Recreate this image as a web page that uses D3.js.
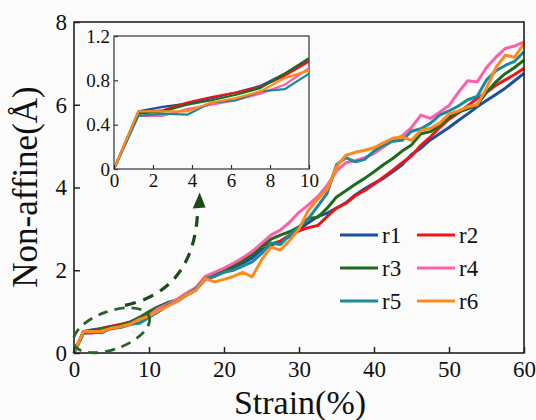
<!DOCTYPE html>
<html>
<head>
<meta charset="utf-8">
<script src="https://cdn.jsdelivr.net/npm/d3@7"></script>
<style>
  body { margin: 0; background: #fbfbfb; }
  svg text { font-family: "Liberation Serif", "Times New Roman", serif; fill: #111; }
</style>
</head>
<body>
<div id="chart"></div>
<script>
// strain (%) sampled every 1.25
const strain = d3.range(0, 60.01, 1.25);

const r1 = [0, 0.52, 0.56, 0.59, 0.64, 0.69, 0.75, 0.86, 0.98, 1.08, 1.18, 1.25, 1.4, 1.52, 1.78, 1.86, 1.97, 2.07, 2.17, 2.3, 2.5, 2.6, 2.7, 2.82, 2.98, 3.15, 3.3, 3.38, 3.5, 3.63, 3.82, 3.97, 4.1, 4.22, 4.38, 4.55, 4.8, 4.95, 5.15, 5.3, 5.45, 5.62, 5.78, 5.95, 6.1, 6.25, 6.4, 6.58, 6.76];
const r2 = [0, 0.51, 0.53, 0.6, 0.65, 0.69, 0.74, 0.84, 0.97, 1.08, 1.18, 1.27, 1.42, 1.55, 1.8, 1.88, 1.98, 2.1, 2.28, 2.45, 2.6, 2.63, 2.7, 2.85, 2.95, 3.03, 3.08, 3.3, 3.5, 3.62, 3.8, 3.93, 4.08, 4.25, 4.42, 4.6, 4.76, 5.02, 5.22, 5.45, 5.65, 5.8, 5.98, 6.15, 6.3, 6.47, 6.6, 6.73, 6.88];
const r3 = [0, 0.5, 0.52, 0.58, 0.62, 0.67, 0.73, 0.86, 1.0, 1.12, 1.22, 1.28, 1.43, 1.56, 1.82, 1.9, 2.0, 2.1, 2.22, 2.38, 2.57, 2.75, 2.85, 2.93, 3.05, 3.25, 3.28, 3.5, 3.77, 3.92, 4.08, 4.22, 4.38, 4.55, 4.7, 4.88, 5.03, 5.3, 5.35, 5.5, 5.7, 5.82, 5.9, 6.0, 6.3, 6.55, 6.75, 6.9, 7.08];
const r4 = [0, 0.48, 0.48, 0.54, 0.58, 0.62, 0.68, 0.76, 0.91, 1.08, 1.18, 1.3, 1.45, 1.58, 1.85, 1.95, 2.05, 2.17, 2.3, 2.45, 2.65, 2.85, 2.97, 3.16, 3.4, 3.58, 3.78, 4.05, 4.4, 4.6, 4.65, 4.72, 4.82, 4.98, 5.14, 5.25, 5.45, 5.75, 5.67, 5.82, 5.98, 6.3, 6.58, 6.55, 6.9, 7.15, 7.36, 7.42, 7.52];
const r5 = [0, 0.48, 0.5, 0.49, 0.6, 0.62, 0.7, 0.72, 0.86, 1.0, 1.15, 1.25, 1.4, 1.55, 1.8, 1.85, 1.95, 2.0, 2.1, 2.2, 2.4, 2.66, 2.62, 2.85, 3.05, 3.25, 3.55, 3.86, 4.55, 4.72, 4.62, 4.68, 4.88, 5.02, 5.12, 5.14, 5.36, 5.42, 5.55, 5.75, 5.85, 5.97, 6.12, 6.2, 6.6, 6.82, 6.95, 7.05, 7.28];
const r6 = [0, 0.52, 0.52, 0.52, 0.6, 0.64, 0.7, 0.82, 0.89, 1.02, 1.13, 1.25, 1.4, 1.52, 1.8, 1.72, 1.78, 1.85, 1.95, 1.84, 2.25, 2.56, 2.49, 2.72, 3.0, 3.45, 3.72, 3.95, 4.5, 4.78, 4.85, 4.9, 4.96, 5.08, 5.19, 5.22, 5.14, 5.38, 5.43, 5.55, 5.78, 5.85, 5.95, 6.0, 6.4, 6.9, 7.2, 7.15, 7.48];

const names = ["r1", "r2", "r3", "r4", "r5", "r6"];
const colors = ["#1b4f9f", "#ee1414", "#1d6b1d", "#ff5eaa", "#1a8a9a", "#ff8a1c"];
const xTicks = [0, 10, 20, 30, 40, 50, 60];
const yTicks = [0, 2, 4, 6, 8];
const insetXTicks = [0, 2, 4, 6, 8, 10];
const insetYTicks = [0, 0.4, 0.8, 1.2];

const series = [r1, r2, r3, r4, r5, r6].map((vals, i) => ({
  name: names[i],
  color: colors[i],
  points: vals.map((v, j) => [strain[j], v])
}));

const W = 536, H = 420;
const svg = d3.select("#chart").append("svg")
  .attr("width", W).attr("height", H);

// main axes
const x = d3.scaleLinear().domain([0, 60]).range([74, 524]);
const y = d3.scaleLinear().domain([0, 8]).range([353, 22]);

const line = d3.line().x(d => x(d[0])).y(d => y(d[1]));

svg.append("g").selectAll("path")
  .data(series)
  .join("path")
  .attr("d", d => line(d.points))
  .attr("fill", "none")
  .attr("stroke", d => d.color)
  .attr("stroke-width", 3)
  .attr("stroke-linejoin", "round");

// frame
svg.append("rect")
  .attr("x", x(0)).attr("y", y(8))
  .attr("width", x(60) - x(0)).attr("height", y(0) - y(8))
  .attr("fill", "none").attr("stroke", "#222").attr("stroke-width", 1.6);

const xAxis = svg.append("g")
  .attr("transform", `translate(0,${y(0)})`)
  .call(d3.axisBottom(x).tickValues(xTicks).tickSize(-6).tickPadding(8).tickFormat(d3.format("d")));
const yAxis = svg.append("g")
  .attr("transform", `translate(${x(0)},0)`)
  .call(d3.axisLeft(y).tickValues(yTicks).tickSize(-6).tickPadding(7).tickFormat(d3.format("d")));
[xAxis, yAxis].forEach(a => {
  a.attr("font-family", null);
  a.select(".domain").remove();
  a.selectAll(".tick line").attr("stroke", "#222").attr("stroke-width", 1.5);
  a.selectAll("text").attr("font-size", 23);
});

svg.append("text")
  .attr("x", (x(0) + x(60)) / 2 + 1).attr("y", 414)
  .attr("text-anchor", "middle").attr("font-size", 34)
  .text("Strain(%)");
svg.append("text")
  .attr("transform", "translate(37,187) rotate(-90)")
  .attr("text-anchor", "middle").attr("font-size", 35)
  .text("Non-affine(Å)");

// legend
const legend = svg.append("g").selectAll("g")
  .data(series)
  .join("g")
  .attr("transform", (d, i) => `translate(${340 + (i % 2) * 77},${235 + Math.floor(i / 2) * 33})`);
legend.append("line")
  .attr("x1", 0).attr("x2", 38)
  .attr("stroke", d => d.color).attr("stroke-width", 3);
legend.append("text")
  .attr("x", 42).attr("y", 8)
  .attr("font-size", 23)
  .text(d => d.name);

// annotation: dashed ellipse + curved arrow
const ann = "#1d4a1d";
svg.append("ellipse")
  .attr("cx", x(5)).attr("cy", y(0.55))
  .attr("rx", 40).attr("ry", 19)
  .attr("transform", `rotate(-20,${x(5)},${y(0.55)})`)
  .attr("fill", "none").attr("stroke", "#26632a")
  .attr("stroke-width", 2.8).attr("stroke-dasharray", "10,7");

const p0 = [x(6.8), y(1.15)], pc = [x(16.2), y(1.52)], p1 = [x(16.5), y(3.5)];
svg.append("path")
  .attr("d", `M${p0}Q${pc} ${p1}`)
  .attr("fill", "none").attr("stroke", ann)
  .attr("stroke-width", 3.2).attr("stroke-dasharray", "11,8");
const tip = [x(16.75), y(3.88)];
svg.append("path")
  .attr("d", `M${tip}L${tip[0] - 7},${tip[1] + 16}L${tip[0] + 6},${tip[1] + 15}Z`)
  .attr("fill", ann);

// inset
const ix = d3.scaleLinear().domain([0, 10]).range([114, 309]);
const iy = d3.scaleLinear().domain([0, 1.2]).range([169, 36]);
const iline = d3.line().x(d => ix(d[0])).y(d => iy(d[1]));

svg.append("rect")
  .attr("x", ix(0)).attr("y", iy(1.2))
  .attr("width", ix(10) - ix(0)).attr("height", iy(0) - iy(1.2))
  .attr("fill", "#fbfbfb").attr("stroke", "#333").attr("stroke-width", 1.2);

svg.append("g").selectAll("path")
  .data(series)
  .join("path")
  .attr("d", d => iline(d.points.filter(p => p[0] <= 10)))
  .attr("fill", "none")
  .attr("stroke", d => d.color)
  .attr("stroke-width", 2.2)
  .attr("stroke-linejoin", "round");

const ixAxis = svg.append("g")
  .attr("transform", `translate(0,${iy(0)})`)
  .call(d3.axisBottom(ix).tickValues(insetXTicks).tickSize(-4).tickPadding(5).tickFormat(d3.format("d")));
const iyAxis = svg.append("g")
  .attr("transform", `translate(${ix(0)},0)`)
  .call(d3.axisLeft(iy).tickValues(insetYTicks).tickSize(-4).tickPadding(4).tickFormat(d => d === 0 ? "0" : d3.format(".1f")(d)));
[ixAxis, iyAxis].forEach(a => {
  a.attr("font-family", null);
  a.select(".domain").remove();
  a.selectAll(".tick line").attr("stroke", "#333").attr("stroke-width", 1.2);
  a.selectAll("text").attr("font-size", 19);
});
</script>
</body>
</html>
